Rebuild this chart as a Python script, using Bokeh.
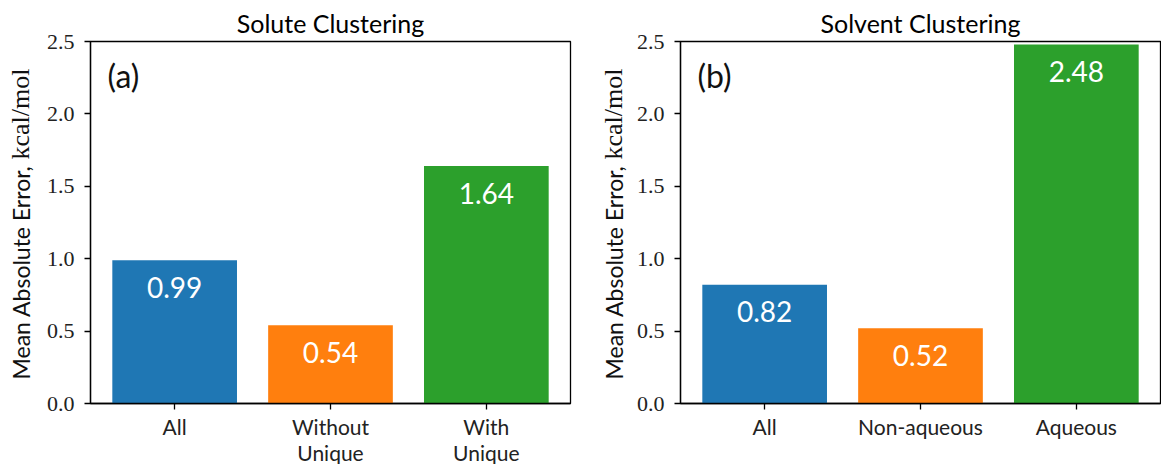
import math
from bokeh.plotting import figure
from bokeh.layouts import row
from bokeh.models import Label, FixedTicker, Range1d
from bokeh.core.properties import value
from bokeh.embed import file_html
from bokeh.resources import INLINE

# ---- data ----
titles = ["Solute Clustering", "Solvent Clustering"]
panel_tags = ["(a)", "(b)"]
categories_a = ["All", "Without\nUnique", "With\nUnique"]
values_a = [0.99, 0.54, 1.64]
categories_b = ["All", "Non-aqueous", "Aqueous"]
values_b = [0.82, 0.52, 2.48]
bar_colors = ["#1f77b4", "#ff7f0e", "#2ca02c"]
y_ticks = [0.0, 0.5, 1.0, 1.5, 2.0, 2.5]
y_tick_labels = ["0.0", "0.5", "1.0", "1.5", "2.0", "2.5"]
y_label_text = "Mean Absolute Error, "
y_label_units = "kcal/mol"

SANS = "Lato"
SERIF = "Liberation Serif"
FRAME_W = 480
FRAME_H = 362
BORDER_TOP = 41
BORDER_BOTTOM = 61
Y_MAX = 2.5
X_LO, X_HI = -0.54, 2.54
LABEL_W = 40


def make_ylabel_fig():
    q = figure(
        output_backend="svg", toolbar_location=None,
        frame_width=LABEL_W, frame_height=FRAME_H,
        min_border_left=0, min_border_right=0,
        min_border_top=BORDER_TOP, min_border_bottom=BORDER_BOTTOM,
        x_range=Range1d(0, 1), y_range=Range1d(0, 1),
        x_axis_location=None, y_axis_location=None,
    )
    q.grid.visible = False
    q.outline_line_color = None
    split = 0.5 + 63 / FRAME_H
    q.text(x=[0.5], y=[split], text=[y_label_text], angle=math.pi / 2,
           text_font=value(SANS), text_font_size="23px", text_color="#111111",
           text_align="right", text_baseline="middle")
    q.text(x=[0.5], y=[split], text=[y_label_units], angle=math.pi / 2,
           text_font=value(SERIF), text_font_size="26px", text_color="#111111",
           text_align="left", text_baseline="middle")
    return q


def make_panel(title, tag, cats, vals, border_left, border_right):
    p = figure(
        output_backend="svg", toolbar_location=None,
        frame_width=FRAME_W, frame_height=FRAME_H,
        min_border_left=border_left, min_border_right=border_right,
        min_border_top=BORDER_TOP, min_border_bottom=BORDER_BOTTOM,
        x_range=Range1d(X_LO, X_HI), y_range=Range1d(0, Y_MAX),
        title=title,
    )
    p.title.align = "center"
    p.title.text_font = SANS
    p.title.text_font_size = "25px"
    p.title.text_font_style = "normal"
    p.title.text_color = "black"
    p.title.standoff = 8
    p.grid.visible = False
    p.outline_line_color = "black"
    p.outline_line_width = 1.3
    p.outline_line_alpha = 1.0
    p.background_fill_color = "white"
    p.border_fill_color = "white"

    xs = list(range(len(cats)))
    p.vbar(x=xs, top=vals, width=0.8, bottom=0, fill_color=bar_colors,
           line_color=None)
    p.text(x=xs, y=vals, text=[f"{v:.2f}" for v in vals],
           text_color="white", text_font=value(SANS), text_font_size="28px",
           text_align="center", text_baseline="middle", y_offset=27)

    xa = p.xaxis[0]
    xa.ticker = FixedTicker(ticks=xs)
    xa.major_label_overrides = {i: c for i, c in enumerate(cats)}
    xa.major_label_text_font = SANS
    xa.major_label_text_font_size = "21px"
    xa.major_label_text_line_height = 1.05
    xa.major_label_text_color = "#222222"
    xa.major_label_standoff = 4
    xa.minor_tick_line_color = None
    xa.major_tick_in = 0
    xa.major_tick_out = 6
    xa.major_tick_line_width = 1.3
    xa.axis_line_width = 1.3

    ya = p.yaxis[0]
    ya.ticker = FixedTicker(ticks=y_ticks)
    ya.major_label_overrides = {t: l for t, l in zip(y_ticks, y_tick_labels)}
    ya.major_label_text_font = SERIF
    ya.major_label_text_font_size = "22px"
    ya.major_label_text_color = "#222222"
    ya.major_label_standoff = 10
    ya.minor_tick_line_color = None
    ya.major_tick_in = 0
    ya.major_tick_out = 6
    ya.major_tick_line_width = 1.3
    ya.axis_line_width = 1.3

    p.add_layout(Label(x=X_LO, y=Y_MAX, x_offset=17, y_offset=-14, text=tag,
                       text_font=SANS, text_font_size="32px",
                       text_align="left", text_baseline="top",
                       text_color="#111111"))
    return p


l1 = make_ylabel_fig()
p1 = make_panel(titles[0], panel_tags[0], categories_a, values_a, 50, 23)
l2 = make_ylabel_fig()
p2 = make_panel(titles[1], panel_tags[1], categories_b, values_b, 47, 1)
layout = row(l1, p1, l2, p2, spacing=0)

open("out.html", "w").write(file_html(layout, INLINE))
